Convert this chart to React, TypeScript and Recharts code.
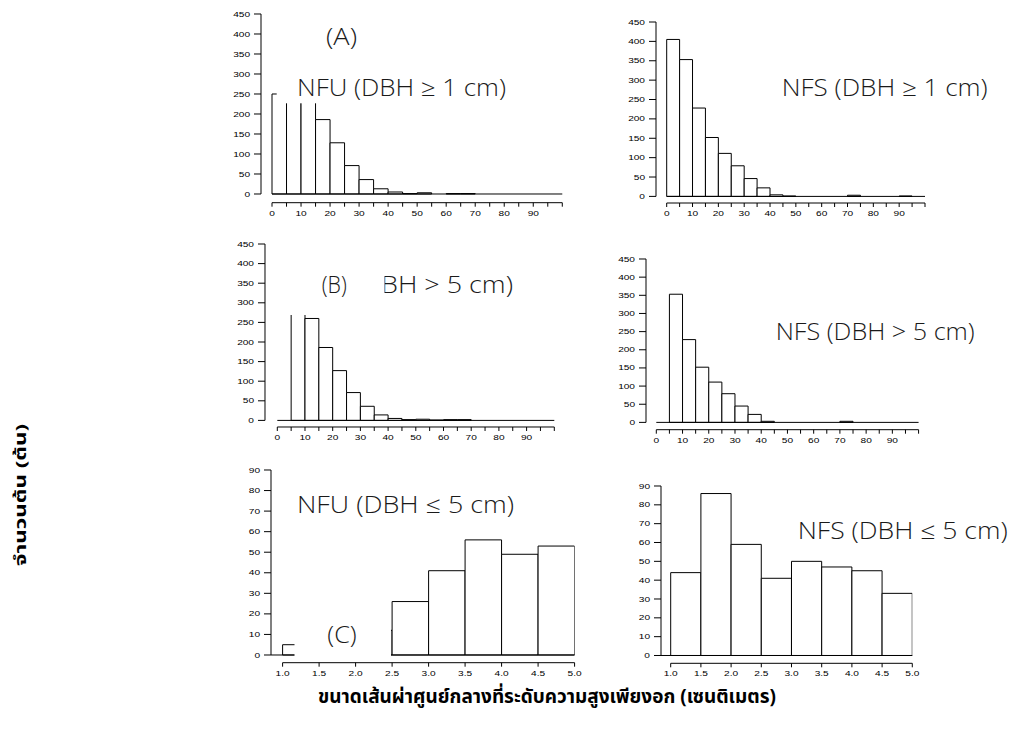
import React from 'react'
import { BarChart, Bar, XAxis, YAxis, ReferenceLine } from 'recharts'

// ขนาดเส้นผ่าศูนย์กลาง (cm): จุดเริ่มของแต่ละช่อง
const dbhBins = [0, 5, 10, 15, 20, 25, 30, 35, 40, 45, 50, 55, 60, 65, 70, 75, 80, 85, 90, 95]
const dbhTicks = [0, 5, 10, 15, 20, 25, 30, 35, 40, 45, 50, 55, 60, 65, 70, 75, 80, 85, 90, 95, 100]
const dbhLabels = [0, 10, 20, 30, 40, 50, 60, 70, 80, 90]
const countTicks = [0, 50, 100, 150, 200, 250, 300, 350, 400, 450]

const smallBins = [1.0, 1.5, 2.0, 2.5, 3.0, 3.5, 4.0, 4.5]
const smallTicks = [1.0, 1.5, 2.0, 2.5, 3.0, 3.5, 4.0, 4.5, 5.0]
const smallCountTicks = [0, 10, 20, 30, 40, 50, 60, 70, 80, 90]

// จำนวนต้นในแต่ละช่อง
const nfuAll = [250, 290, 260, 186, 128, 71, 36, 13, 5, 1, 3, 0, 1, 1, 0, 0, 0, 0, 0, 0]
const nfsAll = [405, 353, 228, 152, 111, 79, 46, 22, 4, 1, 0, 0, 0, 0, 3, 0, 0, 0, 1, 0]
const nfuLarge = [0, 290, 260, 186, 127, 71, 36, 14, 5, 2, 3, 1, 2, 2, 0, 0, 0, 0, 0, 0]
const nfsLarge = [0, 353, 228, 152, 111, 79, 45, 22, 3, 0, 0, 0, 0, 0, 3, 0, 0, 0, 0, 0]
const nfuSmall = [5, 9, 12, 26, 41, 56, 49, 53]
const nfsSmall = [44, 86, 59, 41, 50, 47, 45, 33]

const TICK_FONT = "'Liberation Sans', Arial, sans-serif"
const LABEL_FONT = "'Open Sans', 'Noto Sans', sans-serif"
const THAI_FONT = "'Noto Sans Thai', Loma, Garuda, 'Tlwg Typo', Tahoma, sans-serif"

type Panel = {
  bins: number[]
  counts: number[]
  binW: number
  xStart: number
  xEnd: number
  xTicks: number[]
  xLabels: number[]
  digits: number
  yMax: number
  yTicks: number[]
  baseFromAxis: boolean
  // ตำแหน่งบนหน้า (px)
  axisX: number
  x0: number
  x1: number
  yTop: number
  yZero: number
  axisY: number
}

const panels: Panel[] = [
  { bins: dbhBins, counts: nfuAll, binW: 5, xStart: 0, xEnd: 100, xTicks: dbhTicks, xLabels: dbhLabels, digits: 0,
    yMax: 450, yTicks: countTicks, baseFromAxis: false,
    axisX: 260.7, x0: 271.7, x1: 562, yTop: 14, yZero: 194, axisY: 202.7 },
  { bins: dbhBins, counts: nfsAll, binW: 5, xStart: 0, xEnd: 100, xTicks: dbhTicks, xLabels: dbhLabels, digits: 0,
    yMax: 450, yTicks: countTicks, baseFromAxis: false,
    axisX: 656, x0: 666.7, x1: 925, yTop: 22.3, yZero: 196.7, axisY: 203.3 },
  { bins: dbhBins, counts: nfuLarge, binW: 5, xStart: 0, xEnd: 100, xTicks: dbhTicks, xLabels: dbhLabels, digits: 0,
    yMax: 450, yTicks: countTicks, baseFromAxis: false,
    axisX: 265, x0: 277.3, x1: 554.3, yTop: 244.3, yZero: 420.7, axisY: 427.3 },
  { bins: dbhBins, counts: nfsLarge, binW: 5, xStart: 0, xEnd: 100, xTicks: dbhTicks, xLabels: dbhLabels, digits: 0,
    yMax: 450, yTicks: countTicks, baseFromAxis: false,
    axisX: 645.7, x0: 656, x1: 918.3, yTop: 259.3, yZero: 422.7, axisY: 430 },
  { bins: smallBins, counts: nfuSmall, binW: 0.5, xStart: 1, xEnd: 5, xTicks: smallTicks, xLabels: smallTicks, digits: 1,
    yMax: 90, yTicks: smallCountTicks, baseFromAxis: true,
    axisX: 270.7, x0: 282.3, x1: 574.3, yTop: 470, yZero: 655, axisY: 662.7 },
  { bins: smallBins, counts: nfsSmall, binW: 0.5, xStart: 1, xEnd: 5, xTicks: smallTicks, xLabels: smallTicks, digits: 1,
    yMax: 90, yTicks: smallCountTicks, baseFromAxis: true,
    axisX: 661, x0: 670.7, x1: 912.3, yTop: 486, yZero: 655.5, axisY: 663.3 },
]

// ป้ายในแต่ละกราฟ (box = พื้นขาวที่บังแท่งด้านหลัง)
const labels = [
  { text: '(A)', x: 326, y: 45, w: 31 },
  { text: 'NFU (DBH ≥ 1 cm)', x: 297, y: 95.5, w: 209, box: [276.7, 64, 512, 103.3] },
  { text: 'NFS (DBH ≥ 1 cm)', x: 781.7, y: 95.5, w: 206 },
  { text: 'DBH > 5 cm)', x: 362, y: 292.5, w: 151 },
  { text: '(B)', x: 321.7, y: 292.5, w: 25, box: [280, 260, 384.5, 315] },
  { text: 'NFS (DBH > 5 cm)', x: 775.7, y: 340, w: 199 },
  { text: 'NFU (DBH ≤ 5 cm)', x: 297, y: 513, w: 217 },
  { text: '(C)', x: 327.3, y: 643, w: 29.4, box: [294.5, 612, 391, 657.5] },
  { text: 'NFS (DBH ≤ 5 cm)', x: 797.7, y: 539, w: 210 },
]

const YW = 40
const MT = 8
const MR = 8
const XH = 22

function Histogram({ p }: { p: Panel }) {
  const k = (p.x1 - p.x0) / (p.xEnd - p.xStart)
  const xLo = p.xStart - (p.x0 - p.axisX) / k
  const ky = (p.yZero - p.yTop) / p.yMax
  const yLo = -(p.axisY - p.yZero) / ky
  const data = p.bins.map((b, i) => ({ mid: b + p.binW / 2, count: p.counts[i] }))
  const width = YW + (p.x1 - p.axisX) + MR
  const height = MT + (p.axisY - p.yTop) + XH

  const xTick = (props: any) => {
    const v = props.payload.value
    if (!p.xLabels.includes(v)) return null
    return (
      <text transform={`translate(${props.x},${props.y + 4.5}) scale(1.35,1)`} textAnchor="middle"
        dominantBaseline="central" fontSize={7.5} fontFamily={TICK_FONT} fill="#000">
        {v.toFixed(p.digits)}
      </text>
    )
  }
  const yTick = (props: any) => (
    <text transform={`translate(${props.x},${props.y}) scale(1.35,1)`} textAnchor="end"
      dominantBaseline="central" fontSize={7.5} fontFamily={TICK_FONT} fill="#000">
      {props.payload.value}
    </text>
  )

  return (
    <div style={{ position: 'absolute', left: p.axisX - YW, top: p.yTop - MT, width, height }}>
      <BarChart width={width} height={height} data={data} margin={{ top: MT, right: MR, left: 0, bottom: 0 }}>
        <XAxis type="number" dataKey="mid" domain={[xLo, p.xEnd]} allowDataOverflow ticks={p.xTicks} interval={0}
          axisLine={false} tickLine={{ stroke: '#000' }} tickSize={4} height={XH} tick={xTick} />
        <YAxis type="number" domain={[yLo, p.yMax]} allowDataOverflow ticks={p.yTicks} interval={0}
          axisLine={false} tickLine={{ stroke: '#000' }} tickSize={7} tickMargin={4} width={YW} tick={yTick} />
        <ReferenceLine segment={[{ x: p.baseFromAxis ? xLo : p.xStart, y: 0 }, { x: p.xEnd, y: 0 }]} stroke="#000" />
        <Bar dataKey="count" fill="#fff" stroke="#000" strokeWidth={1} barSize={p.binW * k * 0.999}
          isAnimationActive={false} />
        <ReferenceLine segment={[{ x: xLo, y: 0 }, { x: xLo, y: p.yMax }]} stroke="#000" />
        <ReferenceLine segment={[{ x: p.xStart, y: yLo }, { x: p.xEnd, y: yLo }]} stroke="#000" />
      </BarChart>
    </div>
  )
}

export default function App() {
  return (
    <div style={{ position: 'absolute', left: 0, top: 0, width: 1010, height: 731, background: '#fff', overflow: 'hidden' }}>
      {panels.map((p, i) => (
        <Histogram key={i} p={p} />
      ))}
      <svg width={1010} height={731} style={{ position: 'absolute', left: 0, top: 0, pointerEvents: 'none' }}>
        {labels.map((l, i) => (
          <g key={i}>
            {l.box && <rect x={l.box[0]} y={l.box[1]} width={l.box[2] - l.box[0]} height={l.box[3] - l.box[1]} fill="#fff" />}
            <text x={l.x} y={l.y} fontSize={23} fontWeight={300} fontFamily={LABEL_FONT} fill="#1a1a1a"
              textLength={l.w} lengthAdjust="spacingAndGlyphs">
              {l.text}
            </text>
          </g>
        ))}
        <text x={318} y={703} fontSize={19} fontWeight="bold" fontFamily={THAI_FONT} fill="#000"
          textLength={458} lengthAdjust="spacingAndGlyphs">
          ขนาดเส้นผ่าศูนย์กลางที่ระดับความสูงเพียงอก (เซนติเมตร)
        </text>
        <text transform="translate(26,495) rotate(-90)" textAnchor="middle" fontSize={15} fontWeight="bold"
          fontFamily={THAI_FONT} fill="#000" textLength={142} lengthAdjust="spacingAndGlyphs">
          จำนวนต้น (ต้น)
        </text>
      </svg>
    </div>
  )
}
